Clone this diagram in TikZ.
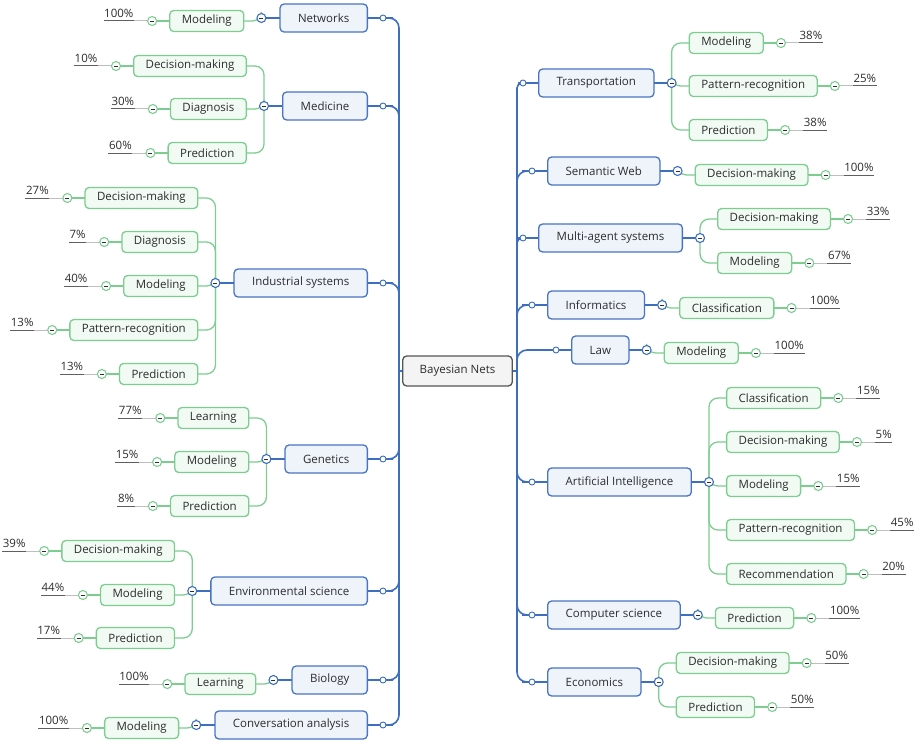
\documentclass[tikz,border=0pt]{standalone}
\usepackage{fontspec}
\setmainfont{Open Sans}
\usetikzlibrary{backgrounds}
\definecolor{inkgray}{RGB}{45,45,45}
\definecolor{rootline}{RGB}{85,85,85}
\definecolor{rootfill}{RGB}{244,244,244}
\definecolor{topicline}{RGB}{72,116,196}
\definecolor{topicfill}{RGB}{239,244,251}
\definecolor{linkblue}{RGB}{62,110,190}
\definecolor{leafline}{RGB}{125,205,145}
\definecolor{leaffill}{RGB}{241,250,243}
\definecolor{rulelight}{RGB}{190,190,190}
\definecolor{ruledark}{RGB}{95,95,95}
\begin{document}
\begin{tikzpicture}[x=1pt, y=-1pt,
  font=\fontsize{11.5}{13.8}\selectfont, text=inkgray,
  box/.style={rounded corners=4pt, line width=1.3pt, inner ysep=0pt},
  rootbox/.style={box, draw=rootline, fill=rootfill, inner xsep=17pt, minimum height=30pt},
  topic/.style={box, draw=topicline, fill=topicfill, inner xsep=18pt, minimum height=28pt},
  leaf/.style={box, draw=leafline, fill=leaffill, inner xsep=12pt, minimum height=21pt},
  joint/.style={circle, draw=linkblue, fill=white, line width=0.9pt, minimum size=6pt, inner sep=0pt},
  knob/.style={circle, draw=linkblue, fill=white, line width=1.1pt, minimum size=9pt, inner sep=0pt,
    path picture={\draw[line width=0.9pt, inkgray] ([xshift=-2pt]path picture bounding box.center) -- ([xshift=2pt]path picture bounding box.center);}},
  leafknob/.style={knob, draw=leafline},
  branch/.style={draw=linkblue, line width=1.6pt, rounded corners=10pt},
  twig/.style={draw=leafline, line width=1.3pt, rounded corners=9pt},
  pct/.style={inner xsep=0.5pt, inner ysep=3pt},
  pctline/.style={draw=rulelight, line width=1pt},
  pctrule/.style={draw=ruledark, line width=1pt}
]
\useasboundingbox (0,0) rectangle (917,741);

% centre
\node[rootbox] (root) at (457.5,371) {Bayesian Nets};
\coordinate (tl) at (399,371);
\coordinate (tr) at (517,371);
\begin{scope}[on background layer]
  \draw[branch] (root.center) -- (tl);
  \draw[branch] (root.center) -- (tr);
\end{scope}

% left topics
\foreach \id/\y/\txt in {net/18/Networks, med/106/Medicine, ind/283/Industrial systems,
    gen/459/Genetics, env/591/Environmental science, bio/680/Biology, con/725/Conversation analysis} {
  \node[topic, anchor=east] (\id) at (368,\y) {\txt};
  \node[joint] (j\id) at ([xshift=15pt]\id.east) {};
  \node[knob] (k\id) at ([xshift=-18pt]\id.west) {};
  \begin{scope}[on background layer]
    \draw[branch] (\id.center) -- (j\id.center) -- (j\id.center -| tl) -- (tl);
    \draw[branch] (\id.center) -- (k\id.center);
  \end{scope}
}

% right topics (r = bend of the link at the trunk)
\foreach \id/\x/\y/\r/\txt in {tra/538/83/5/Transportation, sem/547/171/10/Semantic Web,
    mas/538/238/5/Multi-agent systems, inf/547/305/10/Informatics, law/571/350/10/Law,
    ai/547/482/10/Artificial Intelligence, cs/547/615/10/Computer science, eco/547/682/10/Economics} {
  \node[topic, anchor=west] (\id) at (\x,\y) {\txt};
  \node[joint] (j\id) at ([xshift=-15pt]\id.west) {};
  \node[knob] (k\id) at ([xshift=17pt]\id.east) {};
  \begin{scope}[on background layer]
    \draw[branch, rounded corners=\r pt] (\id.center) -- (j\id.center) -- (j\id.center -| tr) -- (tr);
    \draw[branch] (\id.center) -- (k\id.center);
  \end{scope}
}

% left leaves
\foreach \p/\n/\y/\txt/\val in {net/1/21/Modeling/100,
    med/1/66/Decision-making/10, med/2/109/Diagnosis/30, med/3/153/Prediction/60,
    ind/1/198/Decision-making/27, ind/2/242/Diagnosis/7, ind/3/286/Modeling/40,
    ind/4/330/Pattern-recognition/13, ind/5/374/Prediction/13,
    gen/1/418/Learning/77, gen/2/462/Modeling/15, gen/3/506/Prediction/8,
    env/1/551/Decision-making/39, env/2/595/Modeling/44, env/3/638/Prediction/17,
    bio/1/684/Learning/100, con/1/728/Modeling/100} {
  \node[leaf, anchor=east, xshift=-17pt] (\p\n) at (k\p |- 0,\y) {\txt};
  \node[leafknob] (k\p\n) at ([xshift=-17pt]\p\n.west) {};
  \node[pct, anchor=south east] (p\p\n) at ([xshift=-18pt]k\p\n.center) {\val\%};
  \begin{scope}[on background layer]
    \draw[twig] (k\p.center) |- (\p\n.center);
    \draw[twig] (\p\n.center) -- (k\p\n.center);
    \draw[pctline] (k\p\n.center) -- (p\p\n.south east);
  \end{scope}
  \draw[pctrule] (p\p\n.south east) -- (p\p\n.south west);
}

% right leaves
\foreach \p/\n/\y/\txt/\val in {tra/1/43/Modeling/38, tra/2/86/Pattern-recognition/25, tra/3/130/Prediction/38,
    sem/1/175/Decision-making/100,
    mas/1/219/Decision-making/33, mas/2/263/Modeling/67,
    inf/1/308/Classification/100, law/1/353/Modeling/100,
    ai/1/398/Classification/15, ai/2/442/Decision-making/5, ai/3/486/Modeling/15,
    ai/4/530/Pattern-recognition/45, ai/5/574/Recommendation/20,
    cs/1/618/Prediction/100,
    eco/1/663/Decision-making/50, eco/2/707/Prediction/50} {
  \node[leaf, anchor=west, xshift=17pt] (\p\n) at (k\p |- 0,\y) {\txt};
  \node[leafknob] (k\p\n) at ([xshift=17pt]\p\n.east) {};
  \node[pct, anchor=south west] (p\p\n) at ([xshift=18pt]k\p\n.center) {\val\%};
  \begin{scope}[on background layer]
    \draw[twig] (k\p.center) |- (\p\n.center);
    \draw[twig] (\p\n.center) -- (k\p\n.center);
    \draw[pctline] (k\p\n.center) -- (p\p\n.south west);
  \end{scope}
  \draw[pctrule] (p\p\n.south west) -- (p\p\n.south east);
}
\end{tikzpicture}
\end{document}
